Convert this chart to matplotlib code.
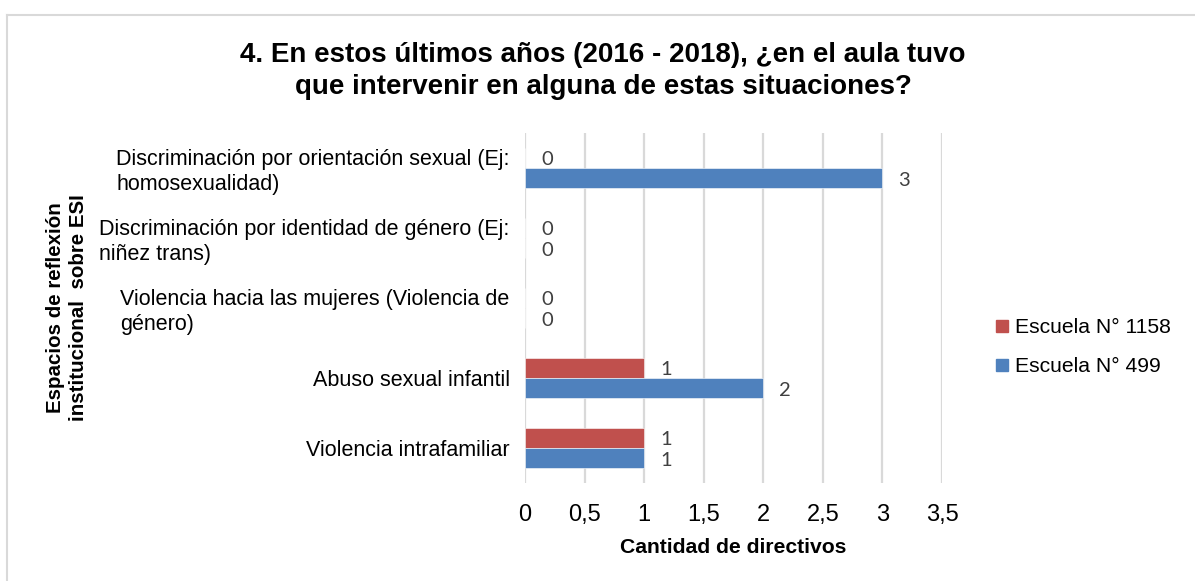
import matplotlib
matplotlib.use("Agg")
import matplotlib.pyplot as plt
import numpy as np
from matplotlib.lines import Line2D

plt.rcParams['font.family'] = ['Liberation Sans', 'DejaVu Sans']

# bottom to top, as drawn
categorias = [
    'Violencia intrafamiliar',
    'Abuso sexual infantil',
    'Violencia hacia las mujeres (Violencia de\ngénero)',
    'Discriminación por identidad de género (Ej:\nniñez trans)',
    'Discriminación por orientación sexual (Ej:\nhomosexualidad)',
]
escuela_1158 = [1, 1, 0, 0, 0]
escuela_499 = [1, 2, 0, 0, 3]
series_nombres = ['Escuela N° 1158', 'Escuela N° 499']
colores = ['#C0504D', '#4F81BD']
ticks_x = [0, 0.5, 1, 1.5, 2, 2.5, 3, 3.5]
ticks_x_lbl = ['0', '0,5', '1', '1,5', '2', '2,5', '3', '3,5']

W, H = 1195, 581
fig = plt.figure(figsize=(W/100, H/100), dpi=100)
ax = fig.add_axes([525/W, 1 - 483/H, (942-525)/W, (483-133)/H])

y = np.arange(len(categorias))
h = 0.286
b1 = ax.barh(y + h/2, escuela_1158, height=h, color=colores[0], edgecolor='white', linewidth=0.4, zorder=3)
b2 = ax.barh(y - h/2, escuela_499, height=h, color=colores[1], edgecolor='white', linewidth=0.4, zorder=3)

for bars, vals in ((b1, escuela_1158), (b2, escuela_499)):
    for rect, v in zip(bars, vals):
        ax.annotate(str(v), (v, rect.get_y() + rect.get_height()/2),
                    xytext=(16, -2), textcoords='offset pixels',
                    ha='left', va='center', fontsize=14.5,
                    color='#404040', family=['Lato', 'DejaVu Sans'])

ax.set_xlim(0, 3.5)
ax.set_ylim(-0.5, len(categorias) - 0.5)
ax.set_xticks(ticks_x)
ax.set_xticklabels(ticks_x_lbl, fontsize=17)
ax.set_yticks(y)
ax.set_yticklabels(categorias, fontsize=15.5, multialignment='left', linespacing=1.22)
ax.tick_params(length=0)
ax.tick_params(axis='y', pad=11)
ax.tick_params(axis='x', pad=15)
ax.grid(axis='x', color='#D9D9D9', linewidth=1.6, zorder=0)
for s in ax.spines.values():
    s.set_visible(False)

ax.set_xlabel('Cantidad de directivos', fontsize=15.2, fontweight='bold', labelpad=9)
fig.text(67/W, 1 - 308/H, 'Espacios de reflexión\ninstitucional  sobre ESI',
         rotation=90, ha='center', va='center', fontsize=14.8, fontweight='bold',
         linespacing=1.3)

fig.text(603/W, 1 - 71/H,
         '4. En estos últimos años (2016 - 2018), ¿en el aula tuvo\nque intervenir en alguna de estas situaciones?',
         ha='center', va='center', fontsize=20, fontweight='bold', linespacing=1.3)

handles = [Line2D([], [], marker='s', linestyle='', markersize=9, color=c) for c in colores]
fig.legend(handles, series_nombres, loc='center left', bbox_to_anchor=(979/W, 1 - 347/H),
           frameon=False, fontsize=15.2, handletextpad=0.0, labelspacing=0.95,
           handlelength=1.2, borderpad=0)

# light frame of the chart area
fig.add_artist(Line2D([7/W, 7/W], [0, 1 - 15/H], color='#D9D9D9', linewidth=1.5))
fig.add_artist(Line2D([7/W, 1], [1 - 15/H, 1 - 15/H], color='#D9D9D9', linewidth=1.5))

fig.savefig('out.png', dpi=100)
